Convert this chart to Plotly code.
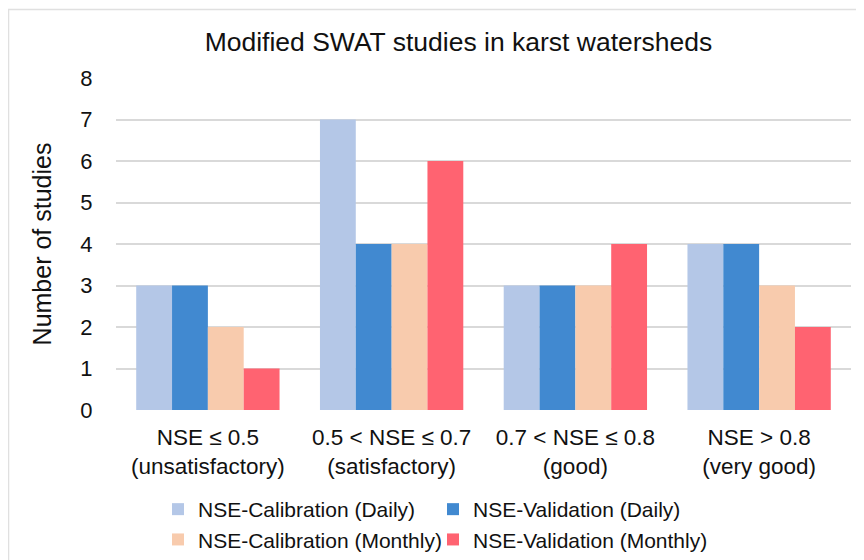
import plotly.graph_objects as go

categories = ["NSE ≤ 0.5<br>(unsatisfactory)", "0.5 < NSE ≤ 0.7<br>(satisfactory)",
              "0.7 < NSE ≤ 0.8<br>(good)", "NSE > 0.8<br>(very good)"]
series_names = ["NSE-Calibration (Daily)", "NSE-Validation (Daily)",
                "NSE-Calibration (Monthly)", "NSE-Validation (Monthly)"]
cal_daily = [3, 7, 3, 4]
val_daily = [3, 4, 3, 4]
cal_monthly = [2, 4, 3, 3]
val_monthly = [1, 6, 4, 2]
colors = ["#B4C7E7", "#4189D0", "#F8CBAD", "#FF6371"]
y_ticks = [0, 1, 2, 3, 4, 5, 6, 7, 8]

fig = go.Figure()
for name, vals, col in zip(series_names, [cal_daily, val_daily, cal_monthly, val_monthly], colors):
    fig.add_trace(go.Bar(x=categories, y=vals, name=name, marker_color=col,
                         marker_line_width=0))

W, H = 864, 560
OFF = 8  # page offset
l, t = 116 - OFF, 78 - OFF
r = W - (851 - OFF)
b = H - (410 - OFF)
pw, ph = W - l - r, H - t - b

def px_x(px):
    return (px - OFF - l) / pw

def px_y(py):
    return (t + ph - (py - OFF)) / ph

fig.update_layout(
    width=W, height=H,
    margin=dict(l=l, r=r, t=t, b=b, autoexpand=False),
    paper_bgcolor="white", plot_bgcolor="white",
    font=dict(family="Liberation Sans, Arial, sans-serif", color="#111111"),
    title=dict(text="Modified SWAT studies in karst watersheds", x=(458.5 - OFF) / W,
               xanchor="center", xref="container", y=1 - (42 - OFF) / H, yanchor="middle",
               font=dict(size=26.5, color="#111111")),
    barmode="group", bargap=0.22, bargroupgap=0,
    showlegend=True,
    legend=dict(orientation="h", x=px_x(158), xanchor="left", y=px_y(489), yanchor="top",
                entrywidth=230, entrywidthmode="pixels", font=dict(size=21, color="#111111"),
                itemsizing="constant", tracegroupgap=0),
    xaxis=dict(tickfont=dict(size=22.5, color="#111111"), showgrid=False,
               ticks="outside", ticklen=7, tickcolor="rgba(0,0,0,0)", showline=False),
    yaxis=dict(range=[0, 8], tickvals=y_ticks, tickfont=dict(size=22, color="#111111"),
               showgrid=True, gridcolor="#D9D9D9", gridwidth=1.5, zeroline=False,
               title=dict(text="Number of studies", font=dict(size=25, color="#111111"), standoff=21),
               ticks="outside", ticklen=18, tickcolor="rgba(0,0,0,0)"),
    shapes=[dict(type="rect", xref="paper", yref="paper",
                 x0=px_x(8.5), x1=px_x(W + 20), y0=px_y(H + 20), y1=px_y(9.5),
                 line=dict(color="#E0E0E0", width=1.5), fillcolor="rgba(0,0,0,0)", layer="below")],
)
fig.write_html("out.html")
